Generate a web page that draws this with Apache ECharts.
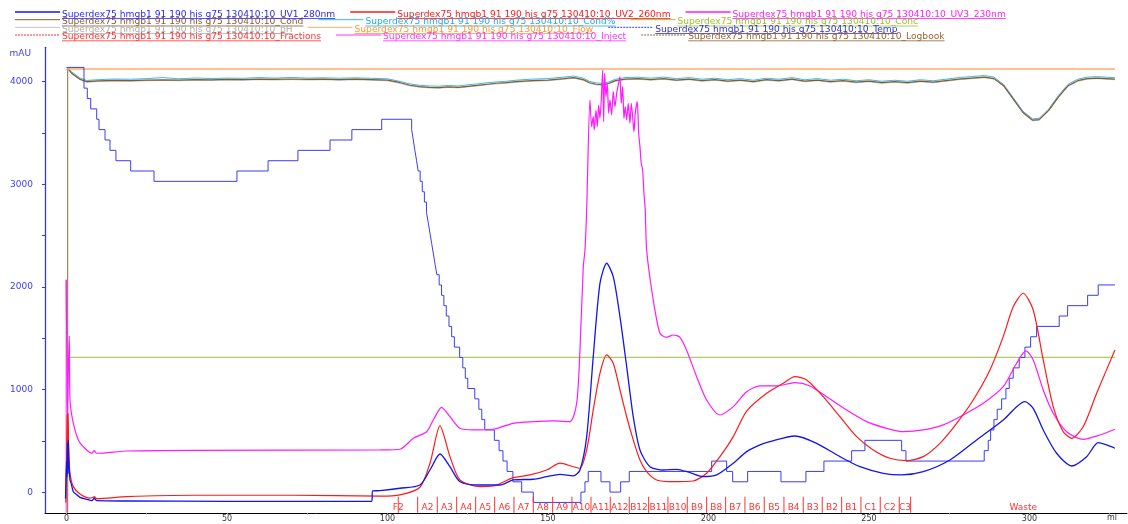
<!DOCTYPE html>
<html>
<head>
<meta charset="utf-8">
<script src="https://cdn.jsdelivr.net/npm/echarts@6/dist/echarts.min.js"></script>
<style>
html,body{margin:0;padding:0;background:#fff;}
#chart{width:1128px;height:524px;}
</style>
</head>
<body>
<div id="chart"></div>
<script>
// Run identity and curve names shown in the legend
const runName = 'Superdex75 hmgb1 91 190 his g75 130410:10';
const curveNames = ['UV1_280nm','UV2_260nm','UV3_230nm','Cond','Cond%','Conc','pH','Flow','Temp','Fractions','Inject','Logbook'];

// Axis ticks and labels (ml / mAU)
const xTicks = [0,25,50,75,100,125,150,175,200,225,250,275,300,325];
const xLabels = [0,50,100,150,200,250,300];
const yTicks = [0,500,1000,1500,2000,2500,3000,3500,4000];
const yLabels = [0,1000,2000,3000,4000];

// UV traces as [ml, mAU]
const uv1 = [[-0.3,-60],[0.0,300],[0.15,150],[0.3,480],[0.45,180],[0.56,510],[0.75,300],[1.09,120],[1.5,80],[2.12,6],[3,-20],[4.2,-49],[6.29,-68],[7.85,-82],[8.3,-70],[8.66,-56],[9.0,-70],[9.41,-82],[18.75,-85],[49.9,-88],[95.08,-88],[95.39,13],[97.66,16],[103.89,39],[110.12,71],[113.24,217],[116.36,373],[119.47,249],[122.59,103],[128.82,71],[135.05,71],[139.19,120],[145.42,127],[149.6,152],[153.74,175],[157.88,159],[159.97,217],[162.06,542],[164.11,1321],[166.2,2036],[168.29,2231],[170.34,2100],[172.43,1711],[174.52,1224],[176.57,736],[178.66,412],[181.78,249],[185.92,217],[190.09,224],[194.24,191],[198.38,152],[202.55,169],[207.73,283],[211.9,396],[216.04,461],[219.16,493],[226.95,548],[233.7,477],[240.97,347],[247.2,249],[254.45,185],[260.19,169],[266.92,201],[275.23,315],[283.55,510],[291.84,704],[296.01,834],[298.6,883],[301.18,818],[304.3,607],[308.47,380],[313.15,256],[317.82,347],[321.43,483],[324.05,461],[326.64,429]];

const uv2 = [[-0.2,-100],[0.05,420],[0.2,760],[0.35,300],[0.5,770],[0.7,400],[1.09,185],[2.12,55],[4.2,-17],[7.32,-58],[8.2,-50],[8.66,-43],[9.1,-55],[9.41,-62],[18.75,-43],[39.5,-29],[70.65,-29],[97.66,-38],[103.89,-26],[110.12,49],[113.24,283],[116.36,646],[119.47,347],[122.59,120],[128.82,55],[132.96,61],[139.19,142],[144.39,169],[149.6,217],[153.74,283],[157.88,249],[159.97,234],[162.06,412],[164.11,802],[166.2,1159],[168.29,1338],[170.34,1257],[172.43,997],[174.52,736],[176.57,510],[178.66,315],[180.75,201],[183.86,120],[189.03,103],[195.26,110],[199.44,185],[203.58,347],[207.73,542],[211.9,790],[218.13,964],[223.3,1062],[226.95,1126],[230.59,1094],[235.76,931],[240.97,736],[246.17,542],[251.34,412],[256.54,331],[261.74,308],[266.92,347],[272.12,477],[277.32,672],[282.49,899],[287.69,1191],[291.84,1516],[294.95,1808],[298.07,1939],[301.18,1776],[304.3,1289],[307.41,834],[310.53,590],[313.15,526],[316.76,639],[320.94,964],[326.64,1386]];

const uv3 = [[-0.1,2070],[0.15,1200],[0.3,700],[0.5,1100],[0.87,1523],[1.09,899],[2.12,672],[3.68,510],[5.23,444],[7.85,380],[8.3,395],[8.66,405],[9.0,390],[9.41,380],[18.75,402],[39.5,409],[97.66,412],[103.89,419],[108.04,526],[112.21,590],[114.27,704],[116.88,828],[119.47,736],[122.59,623],[126.73,607],[132.96,614],[139.19,672],[145.42,688],[151.65,695],[156.85,688],[158.94,867],[159.97,1386],[161.0,2198],[161.53,2360],[162.06,2750],[163.08,3822],[163.61,3562],[164.11,3659],[164.42,3530],[164.95,3724],[165.36,3562],[165.79,3773],[166.2,3643],[166.73,3903],[167.04,4114],[167.35,3610],[167.66,4082],[168.07,3854],[168.47,3985],[168.91,3692],[169.31,3822],[169.84,3676],[170.34,3903],[170.87,3757],[171.4,3887],[171.9,3968],[172.43,4049],[172.83,3790],[173.27,3951],[173.68,3643],[174.08,3757],[174.52,3627],[175.01,3790],[175.55,3595],[175.95,3790],[176.39,3659],[176.79,3513],[177.2,3692],[177.82,3805],[178.26,3497],[178.66,3367],[179.06,3205],[179.5,3140],[179.91,2913],[180.31,2750],[180.75,2360],[182.8,1873],[184.89,1549],[186.98,1510],[189.03,1532],[191.12,1510],[193.2,1384],[196.32,1126],[199.44,899],[203.58,753],[207.73,834],[211.9,980],[216.04,1036],[221.25,1036],[226.95,1068],[231.62,1036],[236.82,931],[243.05,802],[249.28,688],[255.51,623],[260.69,590],[266.92,607],[273.15,656],[279.38,753],[285.61,867],[291.84,1029],[296.01,1257],[298.91,1377],[301.18,1289],[304.3,997],[307.41,770],[311.59,590],[316.76,516],[321.96,558],[326.64,614]];

// Conductivity group sampled on a common ml grid
const condMl = [0.37,0.78,1.62,4.2,6.29,
  10,15,20,25,30,35,40,45,50,55,60,65,70,75,80,85,90,95,100,
  104,107,110,113,116,119,122,125,128,131,134,137,140,
  145,150,155,158,161,163,165,167,169,171,174,178,
  182,186,190,194,198,202,206,210,214,218,222,226,230,234,238,242,246,250,254,258,262,266,270,274,278,282,286,
  289,292,295,298,301,303,306,309,312,315,318,321,324,326.64];
const condVals = [4134,4134,4082,4024,4000,
  4008,4012,4010,4015,4018,4015,4020,4018,4022,4020,4025,4022,4026,4022,4025,4020,4024,4020,4015,
  3990,3965,3952,3945,3942,3950,3945,3955,3965,3975,3985,3990,4000,
  4010,4015,4030,4040,4020,3990,3975,3970,3985,4010,4025,4030,
  4020,4030,4015,4025,4010,4020,4005,4015,4000,4020,4010,4025,4005,4015,4000,4010,3995,4005,3990,4000,3990,4005,3995,4010,4025,4035,4045,
  4030,3960,3830,3700,3625,3630,3720,3850,3960,4010,4030,4035,4030,4025];
const condPctVals = [4134,4134,4095,4036,4012,
  4020,4026,4024,4030,4040,4028,4036,4031,4035,4033,4040,4035,4041,4035,4038,4034,4038,4033,4028,
  4002,3978,3965,3958,3956,3963,3958,3969,3978,3989,3998,4004,4014,
  4025,4030,4045,4055,4034,4003,3988,3984,3998,4024,4040,4044,
  4034,4045,4029,4040,4024,4034,4019,4030,4014,4034,4024,4040,4019,4030,4014,4024,4009,4019,4004,4014,4004,4019,4009,4024,4040,4050,4060,
  4044,3972,3842,3712,3638,3643,3733,3864,3974,4024,4044,4049,4044,4039];
const phVals = [4130,4128,4076,4018,3994,
  4002,4006,4004,4009,4012,4009,4014,4012,4016,4014,4019,4016,4020,4016,4019,4014,4018,4014,4009,
  3984,3959,3946,3939,3936,3944,3939,3949,3959,3969,3979,3984,3994,
  4004,4009,4024,4034,4014,3984,3969,3964,3979,4004,4019,4024,
  4014,4024,4009,4019,4004,4014,3999,4009,3994,4014,4004,4019,3999,4009,3994,4004,3989,3999,3984,3994,3984,3999,3989,4004,4019,4029,4039,
  4024,3954,3824,3694,3619,3624,3714,3844,3954,4004,4024,4029,4024,4019];

// Flat traces
const flow = [[0,4124],[326.64,4124]];
const conc = [[0.6,1315],[326.64,1315]];
const inject = [[-0.1,-200],[-0.1,2070]];
const logbook = [[0.37,-200],[0.37,4134]];

// Temperature trace: each point starts a level held until the next point
const temp = [[0,4139],[5.45,3937],[6.48,3836],[7.54,3735],[9.41,3634],[10.12,3533],[12.0,3432],[13.55,3331],[15.4,3230],[20.0,3130],[27.26,3029],[53.1,3130],[62.8,3230],[72.1,3331],[82.1,3432],[88.9,3533],[98.2,3634],
  [107.54,3533],[108.04,3432],[108.54,3331],[109.07,3230],[109.56,3130],[110.19,3029],[110.84,2928],[111.5,2827],[112.15,2726],[112.71,2625],[113.24,2524],[113.77,2423],[114.3,2322],[114.83,2221],[115.39,2120],[116.11,2020],[116.85,1919],[117.57,1818],[118.32,1717],[119.16,1616],[120.0,1515],[120.84,1414],[122.49,1313],[123.46,1212],[124.24,1111],[125.02,1011],[127.2,910],[128.47,809],[129.38,708],[130.31,607],[133.3,506],[134.77,405],[135.98,304],[137.26,203],[139.07,102],[141.81,2],[145.42,-99],
  [160.28,2],[161.53,102],[162.55,203],[166.51,102],[169.31,2],[172.65,102],[175.33,203],[201.0,304],[205.67,203],[207.54,102],[212.21,203],[222.59,102],[230.37,203],[235.98,304],[244.61,405],[248.75,506],[260.19,405],[261.53,304],
  [285.92,405],[287.17,506],[287.91,607],[288.94,708],[289.97,809],[291.34,910],[292.68,1011],[293.71,1111],[294.95,1212],[296.82,1313],[298.6,1414],[300.37,1515],[302.24,1616],[309.28,1717],[311.9,1818],[318.13,1919],[321.43,2020],[326.64,2020]];

// Fraction boundaries (ml) and names of the fractions between them
const fracTicks = [103.36,109.41,115.51,121.56,127.48,133.4,139.41,145.42,151.46,157.48,163.4,169.41,175.33,181.37,187.38,193.4,199.44,205.36,211.37,217.38,223.52,229.53,235.45,241.5,247.51,253.52,259.44,262.99];
const fracNames = ['A2','A3','A4','A5','A6','A7','A8','A9','A10','A11','A12','B12','B11','B10','B9','B8','B7','B6','B5','B4','B3','B2','B1','C1','C2','C3'];
const fracExtra = [[103.36,'F2'],[298.1,'Waste']];

// Colours, one per curve
const lineColors = ['#1414ec','#ff1a1a','#ff1aff','#8b5a2b','#33bbee','#9cc23a','#c4c4c4','#ffab6a','#3c3cf0','#ff3030','#ff33ff','#8a6a3a'];
const textColors = ['#2a2aff','#ff1a1a','#ff22ff','#8b5a2b','#22aaee','#99c22a','#b0b0b0','#ff9933','#3333cc','#ff3333','#ff33ff','#996633'];

const FONT = '"DejaVu Sans", Verdana, sans-serif';
const zip = (xs, ys) => xs.map((x, i) => [x, ys[i]]);

function curve(idx, data, width, extra) {
  return Object.assign({
    type: 'line', name: curveNames[idx], data: data,
    symbol: 'none', showSymbol: false, silent: true,
    lineStyle: { color: lineColors[idx], width: width },
    itemStyle: { color: lineColors[idx] }
  }, extra || {});
}

const tickTop = -43;     // top of fraction tick marks (mAU)
const labelLevel = -148; // vertical level of fraction names (mAU)

const fractionTicks = {
  type: 'custom', name: curveNames[9], silent: true, z: 5,
  data: fracTicks.map(v => [v]),
  renderItem: function (params, api) {
    const x = api.value(0);
    const a = api.coord([x, tickTop]);
    const b = api.coord([x, -200]);
    return { type: 'line', shape: { x1: a[0], y1: a[1], x2: b[0], y2: b[1] },
      style: { stroke: lineColors[9], lineWidth: 1 } };
  }
};
const labelData = fracNames.map((n, i) => [(fracTicks[i + 1] + fracTicks[i + 2]) / 2, n])
  .concat(fracExtra);
const fractionLabels = {
  type: 'custom', name: curveNames[9] + ' labels', silent: true, z: 6,
  data: labelData,
  renderItem: function (params, api) {
    const p = api.coord([api.value(0), labelLevel]);
    return { type: 'text', x: p[0], y: p[1],
      style: { text: labelData[params.dataIndex][1], fill: '#ff3333', font: '9px ' + FONT,
        align: 'center', verticalAlign: 'middle' } };
  }
};

// Legend drawn as underlined text rows
const legendRows = [[0, 1, 2], [3, 4, 5], [6, 7, 8], [9, 10, 11]];
const rowText = [14.3, 21.8, 29.3, 36.6];
const rowLine = [12, 19.7, 27.3, 35];
const dashed = { 8: [2, 1], 9: [2, 1], 11: [2, 1] };
const LEGEND_FONT = '9.15px ' + FONT;
const ctx = document.createElement('canvas').getContext('2d');
ctx.font = LEGEND_FONT;
const legendEls = [];
legendRows.forEach((row, r) => {
  let x = 15;
  row.forEach(idx => {
    const label = runName + '_' + curveNames[idx];
    const w = ctx.measureText(label).width;
    legendEls.push({ type: 'line', shape: { x1: x, y1: rowLine[r], x2: x + 45, y2: rowLine[r] },
      style: { stroke: lineColors[idx], lineWidth: r === 0 ? 1.5 : 1, lineDash: dashed[idx] || null } });
    const tx = x + 47;
    legendEls.push({ type: 'text', x: tx, y: rowText[r],
      style: { text: label, fill: textColors[idx], font: LEGEND_FONT, verticalAlign: 'middle' } });
    legendEls.push({ type: 'line', shape: { x1: tx, y1: rowText[r] + 4.2, x2: tx + w, y2: rowText[r] + 4.2 },
      style: { stroke: textColors[idx], lineWidth: 0.8 } });
    x = tx + w + 15;
  });
});

const chart = echarts.init(document.getElementById('chart'), null, { renderer: 'canvas' });
chart.setOption({
  animation: false,
  grid: { left: 45, right: 1, top: 47.3, bottom: 11.2 },
  xAxis: {
    type: 'value', min: -6.7, max: 330.4,
    axisLine: { onZero: false, lineStyle: { color: '#000', width: 1 } },
    axisTick: { show: true, customValues: xTicks, length: 2, lineStyle: { color: '#999' } },
    axisLabel: { customValues: xLabels, fontSize: 8, color: '#333', margin: 2, fontFamily: FONT,
      formatter: v => String(v) },
    splitLine: { show: false }
  },
  yAxis: {
    type: 'value', min: -200, max: 4335,
    axisLine: { show: true, onZero: false, lineStyle: { color: '#3333ff', width: 1.3 } },
    axisTick: { show: true, customValues: yTicks, length: 3, lineStyle: { color: '#3333ff' } },
    axisLabel: { customValues: yLabels, fontSize: 9, color: '#3c3cee', margin: 12, fontFamily: FONT,
      formatter: v => String(v) },
    splitLine: { show: false }
  },
  series: [
    curve(6, zip(condMl, phVals), 1),
    curve(4, zip(condMl, condPctVals), 1),
    curve(11, logbook, 1),
    curve(3, zip(condMl, condVals), 1.2),
    curve(7, flow, 1.5),
    curve(5, conc, 1),
    curve(8, temp, 1, { step: 'end' }),
    curve(10, inject, 1),
    curve(2, uv3, 1.2, { smooth: 0.25 }),
    curve(1, uv2, 1.2, { smooth: 0.25 }),
    curve(0, uv1, 1.3, { smooth: 0.25 }),
    fractionTicks,
    fractionLabels
  ],
  graphic: legendEls.concat([
    { type: 'text', x: 31, y: 54, style: { text: 'mAU', fill: '#3c3cee', font: '9px ' + FONT, align: 'right', verticalAlign: 'middle' } },
    { type: 'text', x: 1112, y: 518, style: { text: 'ml', fill: '#333', font: '8px ' + FONT, align: 'center', verticalAlign: 'middle' } }
  ])
});
</script>
</body>
</html>
